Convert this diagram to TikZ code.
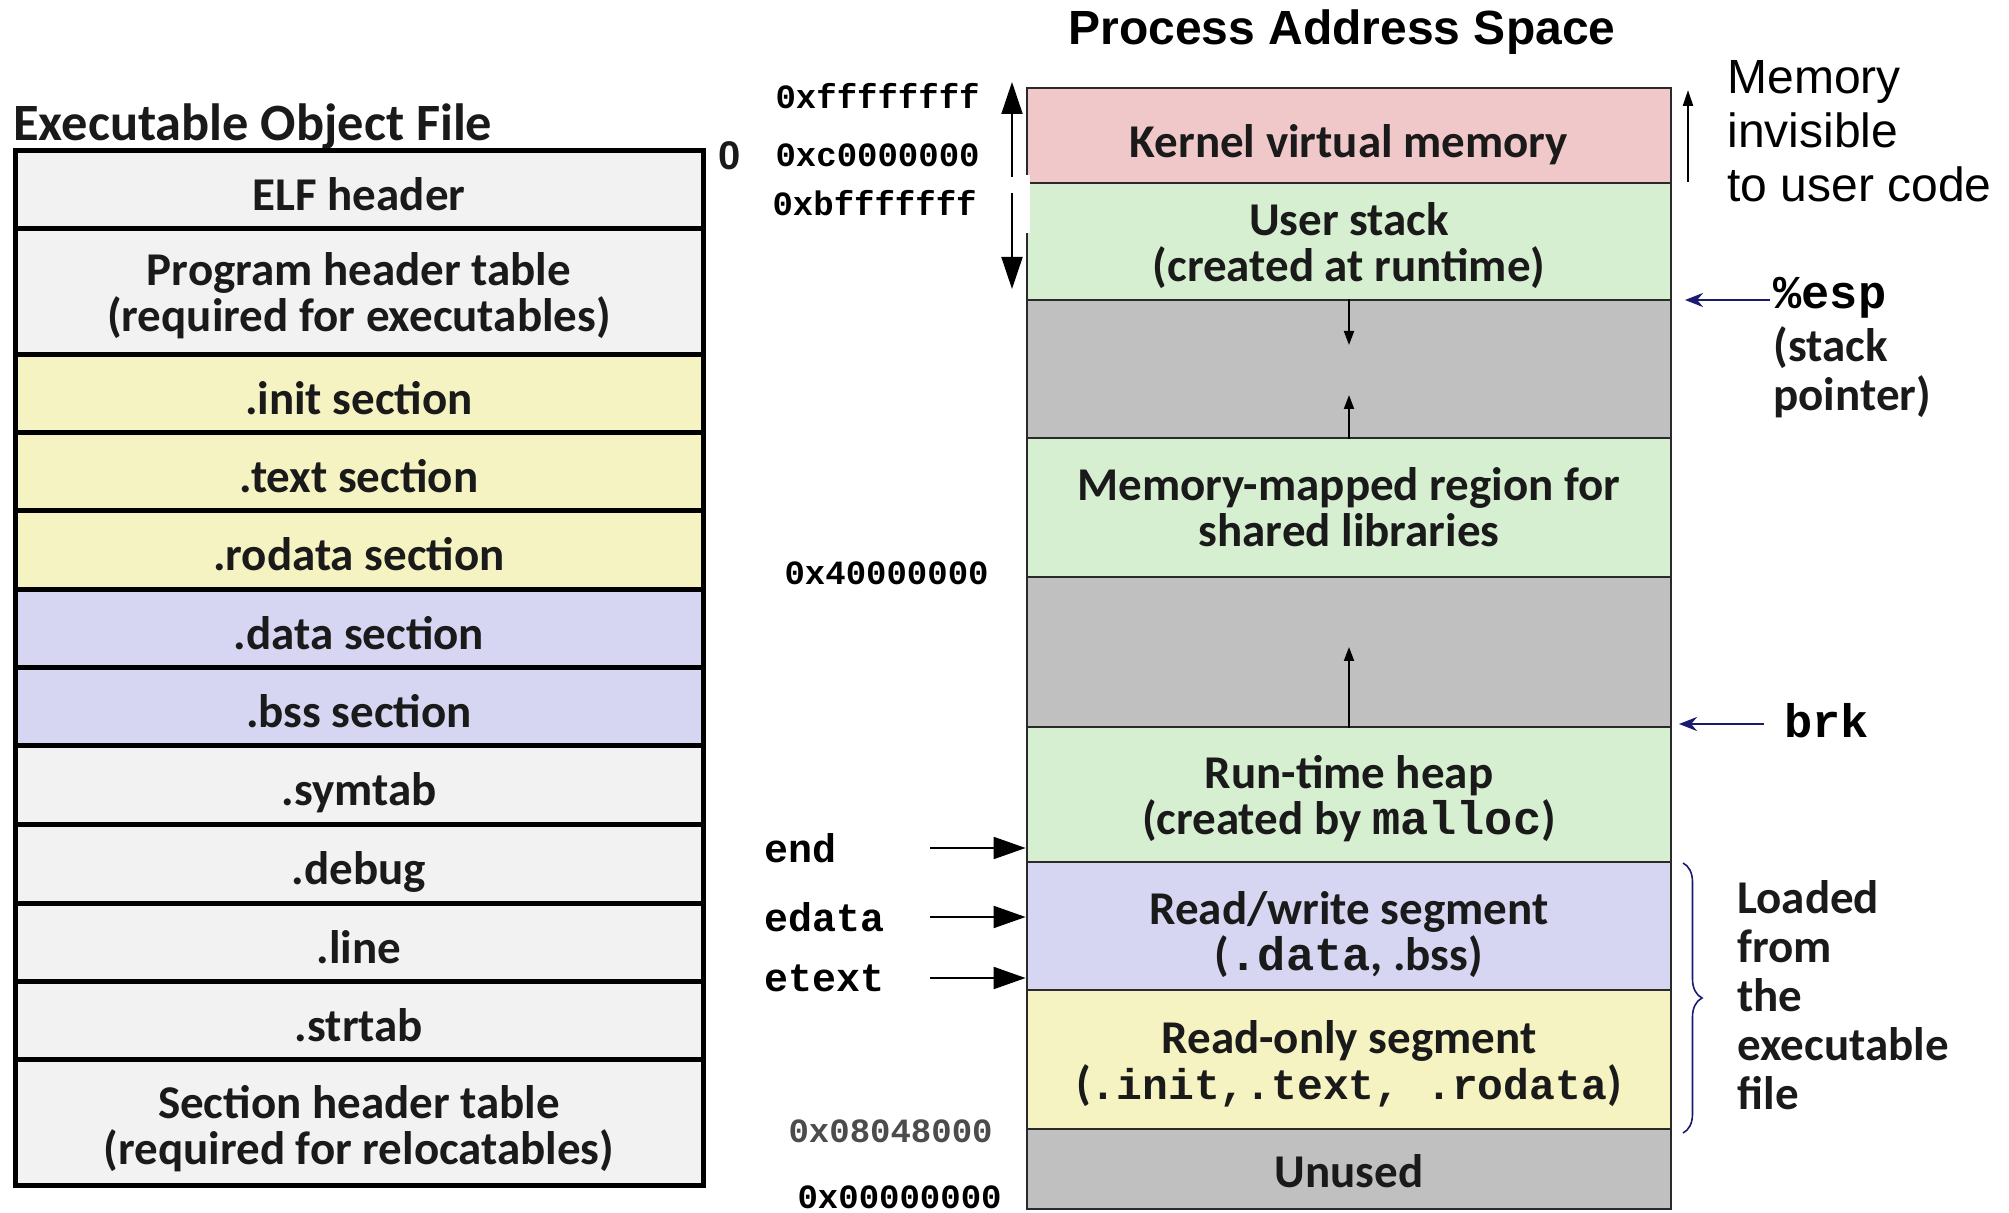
\documentclass[tikz,border=0pt]{standalone}
\usepackage{fontspec}
\setmainfont{Carlito}
\newfontfamily\lsans{Liberation Sans}
\newfontfamily\lmono{Liberation Mono}
\usetikzlibrary{arrows.meta,decorations.pathreplacing}
\definecolor{cgray}{HTML}{F2F2F2}
\definecolor{cyel}{HTML}{F5F3C1}
\definecolor{clav}{HTML}{D6D6F3}
\definecolor{cpink}{HTML}{F0C8C9}
\definecolor{cgreen}{HTML}{D6EFD0}
\definecolor{cfree}{HTML}{C0C0C0}
\definecolor{txt}{HTML}{1A1A1A}
\definecolor{navy}{HTML}{1A1A6E}
\definecolor{rline}{HTML}{2A2A2A}
\tikzset{
  lrow/.style={draw=black, line width=2.5pt, fill=#1, minimum width=344pt, inner sep=0pt},
  rrow/.style={draw=rline, line width=1.4pt, fill=#1, minimum width=322pt, inner sep=0pt},
  rowtxt/.style={align=center, text=txt, inner sep=0pt, font=\bfseries\fontsize{23.5}{23}\selectfont},
  addr/.style={font=\lmono\bfseries\fontsize{17}{17}\selectfont, inner sep=0pt, anchor=east},
  symb/.style={font=\lmono\bfseries\fontsize{20}{20}\selectfont, inner sep=0pt, anchor=west},
  reg/.style={font=\lmono\bfseries\fontsize{23.5}{23.5}\selectfont, inner sep=0pt, anchor=base west},
  note/.style={font=\bfseries\fontsize{23.5}{24.5}\selectfont, inner sep=0pt, anchor=west, align=left, text=txt},
  bigarr/.style={line width=1pt, -{Triangle[length=16pt,width=10.5pt]}},
  ptrarr/.style={line width=1pt, -{Triangle[length=16pt,width=11pt]}},
  smallarr/.style={line width=1pt, -{Triangle[length=7pt,width=5pt]}},
  navyarr/.style={draw=navy, line width=1.2pt, -{Stealth[length=9pt,width=7pt]}},
}
\begin{document}
\begin{tikzpicture}[x=0.5pt,y=-0.5pt]
\useasboundingbox (0,0) rectangle (2009,1213);

% ---------- Executable object file ----------
\node[font=\bfseries\fontsize{26.2}{26}\selectfont, text=txt, anchor=west, inner sep=0pt] (ltitle) at (13,127) {Executable Object File};
\node[font=\lsans\bfseries\fontsize{20}{20}\selectfont, text=txt, inner sep=0pt] (zero) at (730,156) {0};

\node[lrow=cgray, minimum height=39pt, label={[rowtxt, yshift=-2pt]center:{ELF header}}] (elf) at (359,190) {};
\node[lrow=cgray, minimum height=63pt, label={[rowtxt, yshift=-2pt]center:{Program header table\\(required for executables)}}] (pht) at (359,292) {};
\node[lrow=cyel, minimum height=39pt, label={[rowtxt, yshift=-2pt]center:{.init section}}] (init) at (359,394) {};
\node[lrow=cyel, minimum height=39pt, label={[rowtxt, yshift=-2pt]center:{.text section}}] (text) at (359,472) {};
\node[lrow=cyel, minimum height=39.5pt, label={[rowtxt, yshift=-2pt]center:{.rodata section}}] (rodata) at (359,550.5) {};
\node[lrow=clav, minimum height=39pt, label={[rowtxt, yshift=-2pt]center:{.data section}}] (data) at (359,629) {};
\node[lrow=clav, minimum height=39pt, label={[rowtxt, yshift=-2pt]center:{.bss section}}] (bss) at (359,707) {};
\node[lrow=cgray, minimum height=39pt, label={[rowtxt, yshift=-4pt]center:{.symtab}}] (symtab) at (359,785) {};
\node[lrow=cgray, minimum height=39.5pt, label={[rowtxt, yshift=-4pt]center:{.debug}}] (debug) at (359,863.5) {};
\node[lrow=cgray, minimum height=39pt, label={[rowtxt, yshift=-2.5pt]center:{.line}}] (line) at (359,942) {};
\node[lrow=cgray, minimum height=39pt, label={[rowtxt, yshift=-2.5pt]center:{.strtab}}] (strtab) at (359,1020) {};
\node[lrow=cgray, minimum height=63pt, label={[rowtxt, yshift=-3.5pt]center:{Section header table\\(required for relocatables)}}] (sht) at (359,1122) {};

% ---------- Process address space ----------
\node[font=\lsans\bfseries\fontsize{24}{24}\selectfont, inner sep=0pt] (ptitle) at (1342,32) {Process Address Space};

\node[rrow=cpink, minimum height=47.5pt, label={[rowtxt, yshift=-4.5pt]center:{Kernel virtual memory}}] (kern) at (1349,135.5) {};
\node[rrow=cgreen, minimum height=58.5pt, label={[rowtxt, yshift=-2pt]center:{User stack\\(created at runtime)}}] (ustack) at (1349,241.5) {};
\node[rrow=cfree, minimum height=69pt] (gap1) at (1349,369) {};
\node[rrow=cgreen, minimum height=69.5pt, label={[rowtxt]center:{Memory-mapped region for\\shared libraries}}] (mmap) at (1349,507.5) {};
\node[rrow=cfree, minimum height=75pt] (gap2) at (1349,652) {};
\node[rrow=cgreen, minimum height=67.5pt, label={[rowtxt, yshift=-2pt]center:{Run-time heap\\(created by {\lmono malloc})}}] (heap) at (1349,794.5) {};
\node[rrow=clav, minimum height=64pt, label={[rowtxt, yshift=-4.5pt]center:{Read/write segment\\({\lmono .data}, .bss)}}] (rw) at (1349,926) {};
\node[rrow=cyel, minimum height=69.5pt, label={[rowtxt, yshift=-2pt]center:{Read-only segment\\({\lmono\fontsize{21.5}{22}\selectfont .init,.text, .rodata})}}] (ro) at (1349,1059.5) {};
\node[rrow=cfree, minimum height=40pt, label={[rowtxt, yshift=-1pt]center:{Unused}}] (unused) at (1349,1169) {};

% small white gap on the left border
\fill[white] (1018,175) rectangle (1030,233);

% arrows inside free regions
\coordinate (g1a) at (1349,345);
\coordinate (g1b) at (1349,395);
\coordinate (g2a) at (1349,647);
\draw[smallarr] (gap1.north) -- (g1a);
\draw[smallarr] (gap1.south) -- (g1b);
\draw[smallarr] (gap2.south) -- (g2a);

% address labels
\node[addr] (aff) at (980,96) {0xffffffff};
\node[addr] (ac0) at (980,155) {0xc0000000};
\node[addr] (abf) at (977,203) {0xbfffffff};
\node[addr] (a40) at (989,573) {0x40000000};
\node[addr, text=black!70] (a08) at (993,1131) {0x08048000};
\node[addr] (a00) at (1002,1197) {0x00000000};

% kernel range arrows
\coordinate (kTop) at (1012,82);
\coordinate (kBot) at (1012,177);
\coordinate (sTop) at (1012,193);
\coordinate (sBot) at (1012,289);
\draw[bigarr] (kBot) -- (kTop);
\draw[bigarr] (sTop) -- (sBot);

% end / edata / etext
\node[symb] (lend) at (764,848) {end};
\node[symb] (ledata) at (764,917) {edata};
\node[symb] (letext) at (764,978) {etext};
\coordinate (endS) at (930,848);
\coordinate (edataS) at (930,917);
\coordinate (etextS) at (930,978);
\draw[ptrarr] (endS) -- (endS -| heap.west);
\draw[ptrarr] (edataS) -- (edataS -| rw.west);
\draw[ptrarr] (etextS) -- (etextS -| rw.west);

% memory invisible
\coordinate (mBot) at (1688,182);
\coordinate (mTop) at (1688,90);
\draw[line width=1.2pt, -{Triangle[length=8pt,width=5pt]}] (mBot) -- (mTop);
\node[font=\lsans\fontsize{24}{27}\selectfont, anchor=west, align=left, inner sep=0pt] (minv) at (1727,131) {Memory\\invisible\\to user code};

% %esp and brk
\coordinate (espS) at (1770,300);
\coordinate (brkS) at (1764,724);
\draw[navyarr] (espS) -- (espS -| 1685,0);
\draw[navyarr] (brkS) -- (brkS -| 1679,0);
\node[reg] (esp) at (1773,309) {\%esp};
\node[note] (sp) at (1773,372) {(stack\\pointer)};
\node[reg] (brk) at (1784,738) {brk};

% loaded from executable
\coordinate (brT) at (1683,863);
\coordinate (brB) at (1683,1133);
\draw[navy, line width=0.8pt, decorate, decoration={brace, amplitude=9.5pt}] (brT) -- (brB);
\node[note] (loaded) at (1737,995) {Loaded\\from\\the\\executable\\file};
\end{tikzpicture}
\end{document}
